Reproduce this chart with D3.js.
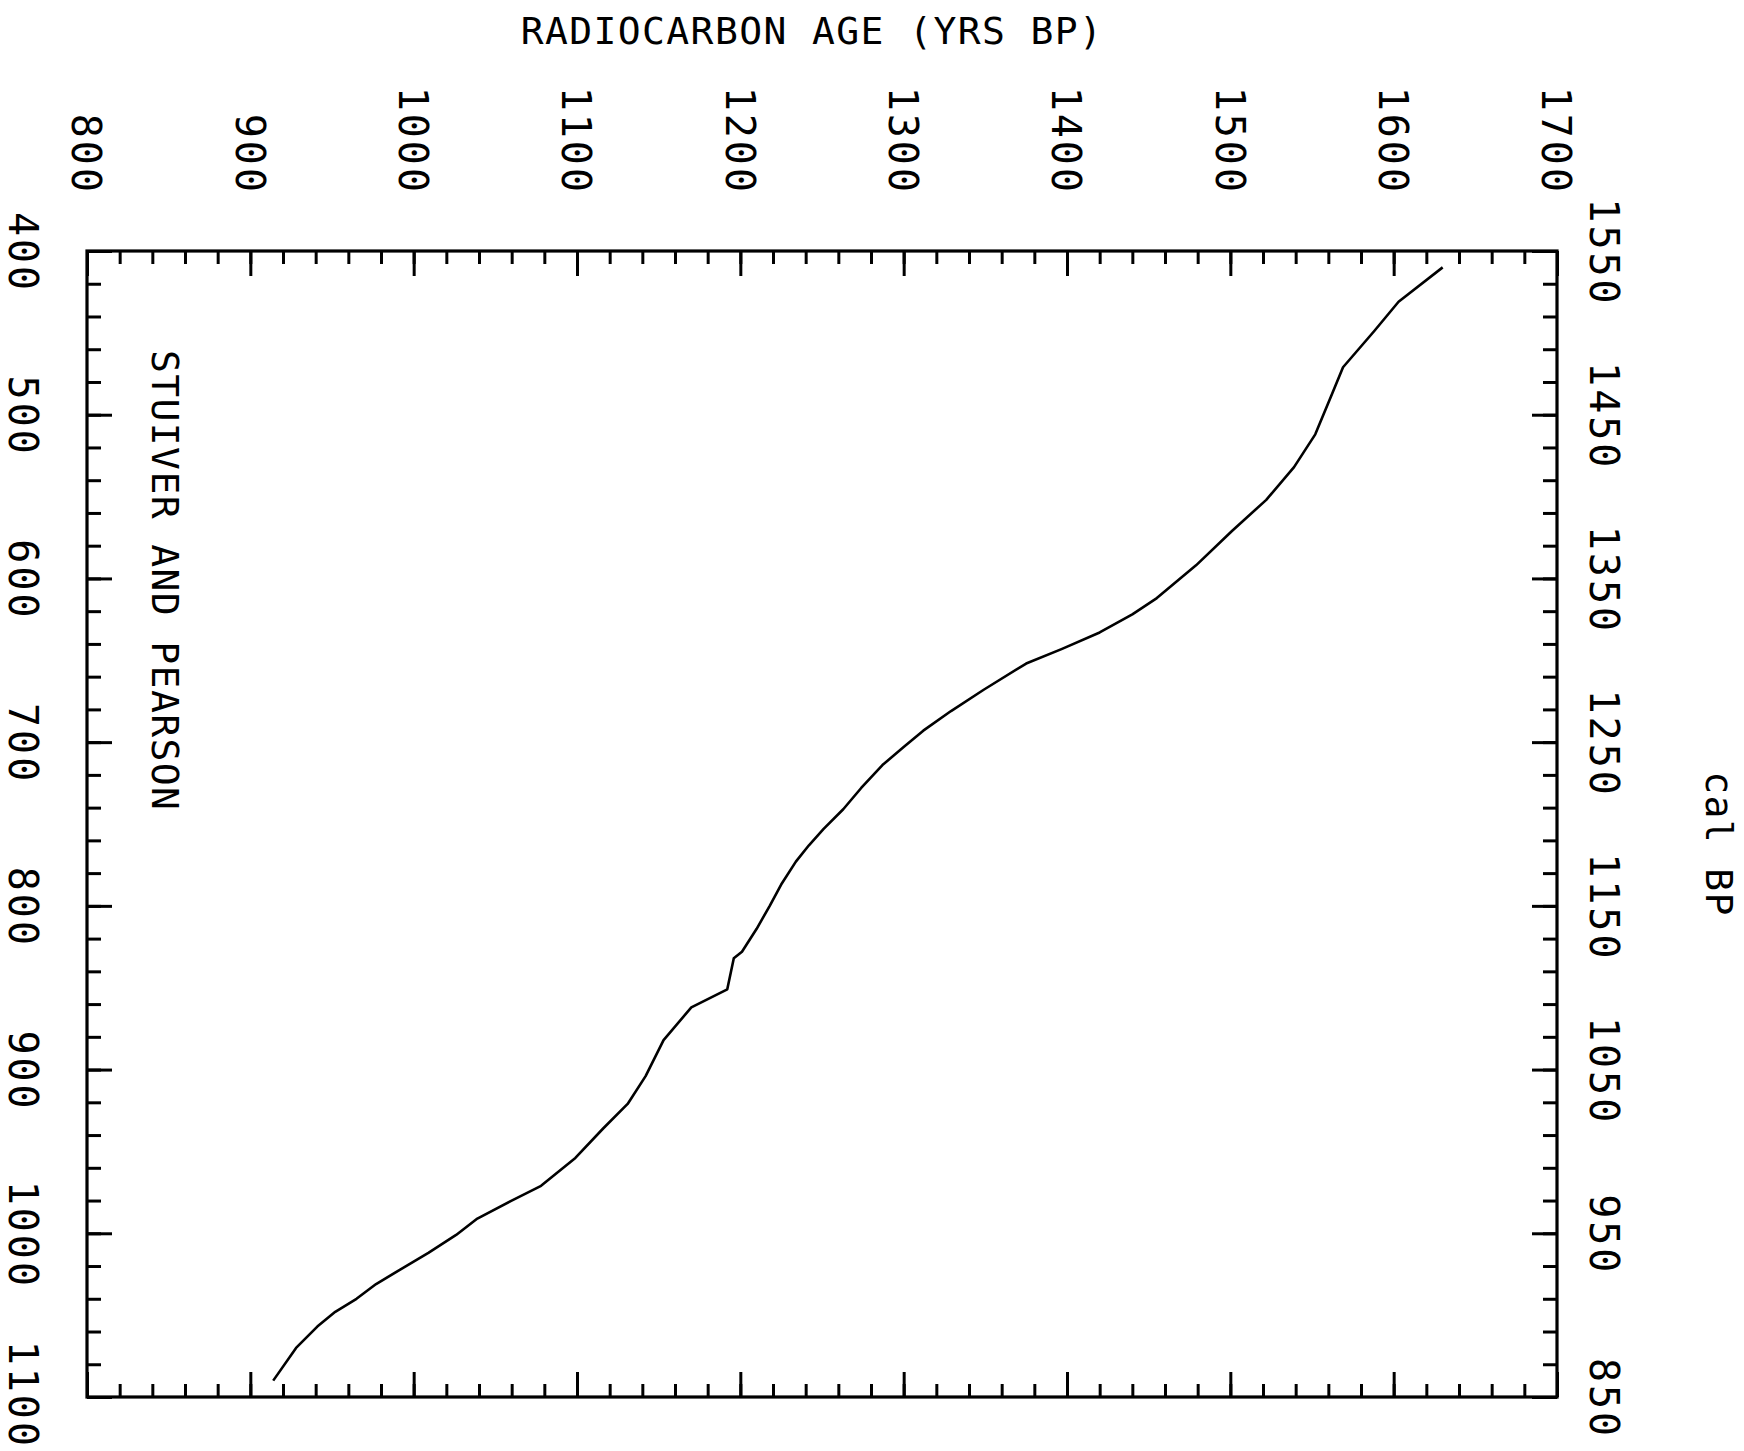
<!DOCTYPE html>
<html>
<head>
<meta charset="utf-8">
<script src="https://cdn.jsdelivr.net/npm/d3@7"></script>
<style>
  html, body { margin: 0; padding: 0; background: #fff; }
  svg { display: block; }
  text { font-family: "DejaVu Sans Mono", monospace; fill: #000; }
</style>
</head>
<body>
<svg id="chart" width="1744" height="1451"></svg>
<script>
// ---- data ----
const radiocarbonAge = [1630,1603,1588,1569,1562,1552,1539,1522,1501,1479,1455,1440,1420,1397,1375,1349,1329,1312,1300,1287,1274,1263,1251,1242,1234,1225,1218,1210,1201,1196,1192,1170,1153,1142,1131,1116,1099,1078,1060,1039,1026,1009,992,977,965,952,941,928,914];
const calAD = [410,431,449,471,488,512,532,552,571,592,612,622,633,643,652,668,681,693,703,714,728,741,753,763,773,787,800,814,828,832,851,862,882,904,921,936,954,971,980,991,1001,1012,1022,1031,1040,1048,1057,1070,1090];
const radiocarbonTicks = [800,900,1000,1100,1200,1300,1400,1500,1600,1700];
const calADTicks = [400,500,600,700,800,900,1000,1100];
const calBPTicks = [1550,1450,1350,1250,1150,1050,950,850];
const titleText = "RADIOCARBON AGE (YRS BP)";
const rightTitle = "cal BP";
const noteText = "STUIVER AND PEARSON";

// ---- layout ----
const W = 1744, H = 1451;
const L = 87, R = 1557, T = 251, B = 1397;
const svg = d3.select("#chart");

const x = d3.scaleLinear().domain([800, 1700]).range([L, R]);
const y = d3.scaleLinear().domain([400, 1100]).range([T, B]);
const yBP = d3.scaleLinear().domain([1550, 850]).range([T, B]);

const minorX = d3.range(800, 1701, 20);
const minorY = d3.range(400, 1101, 20);
const minorBP = d3.range(1550, 849, -20);

function tickAxis(axisFn, scale, values, size, tx, ty) {
  const g = svg.append("g").attr("transform", `translate(${tx},${ty})`)
    .call(axisFn(scale).tickValues(values).tickSize(-size).tickFormat(""));
  g.select(".domain").remove();
  g.selectAll(".tick line").attr("stroke", "#000").attr("stroke-width", 3);
  return g;
}
// minor ticks
tickAxis(d3.axisTop, x, minorX, 13, 0, T);
tickAxis(d3.axisBottom, x, minorX, 13, 0, B);
tickAxis(d3.axisLeft, y, minorY, 14, L, 0);
tickAxis(d3.axisRight, yBP, minorBP, 14, R, 0);
// major ticks
tickAxis(d3.axisTop, x, radiocarbonTicks, 25, 0, T);
tickAxis(d3.axisBottom, x, radiocarbonTicks, 25, 0, B);
tickAxis(d3.axisLeft, y, calADTicks, 25, L, 0);
tickAxis(d3.axisRight, yBP, calBPTicks, 25, R, 0);

// frame
svg.append("rect").attr("x", L).attr("y", T).attr("width", R - L).attr("height", B - T)
  .attr("fill", "none").attr("stroke", "#000").attr("stroke-width", 3.2);

// curve
const line = d3.line().x(d => x(d[0])).y(d => y(d[1]));
svg.append("path").datum(radiocarbonAge.map((r, i) => [r, calAD[i]]))
  .attr("d", line).attr("fill", "none").attr("stroke", "#000")
  .attr("stroke-width", 2.6).attr("stroke-linejoin", "round");

// tick labels (rotated 90° clockwise)
const tickFont = 40, tickLS = 3;
const halfLen = s => String(s).length * (tickFont * 0.602 + tickLS) / 2;
const clampY = (pos, d) => Math.min(pos + tickLS / 2, H - 2 - halfLen(d));

svg.append("g").selectAll("text").data(radiocarbonTicks).join("text")
  .attr("transform", d => `translate(${x(d)},195) rotate(90)`)
  .attr("text-anchor", "end").attr("dy", "0.365em")
  .style("font-size", tickFont + "px").style("letter-spacing", tickLS + "px")
  .text(d => d);
svg.append("g").selectAll("text").data(calADTicks).join("text")
  .attr("transform", d => `translate(24,${clampY(y(d), d)}) rotate(90)`)
  .attr("text-anchor", "middle").attr("dy", "0.365em")
  .style("font-size", tickFont + "px").style("letter-spacing", tickLS + "px")
  .text(d => d);
svg.append("g").selectAll("text").data(calBPTicks).join("text")
  .attr("transform", d => `translate(1605,${clampY(yBP(d), d)}) rotate(90)`)
  .attr("text-anchor", "middle").attr("dy", "0.365em")
  .style("font-size", tickFont + "px").style("letter-spacing", tickLS + "px")
  .text(d => d);

// titles
svg.append("text").attr("x", 812).attr("y", 44).attr("text-anchor", "middle")
  .style("font-size", "38px").style("letter-spacing", "1.4px").text(titleText);
svg.append("text").attr("transform", "translate(1720,844) rotate(90)")
  .attr("text-anchor", "middle").attr("dy", "0.365em")
  .style("font-size", "38px").style("letter-spacing", "1.4px").text(rightTitle);
svg.append("text").attr("transform", "translate(166,350) rotate(90)")
  .attr("text-anchor", "start").attr("dy", "0.365em")
  .style("font-size", "38px").style("letter-spacing", "1.4px").text(noteText);
</script>
</body>
</html>
